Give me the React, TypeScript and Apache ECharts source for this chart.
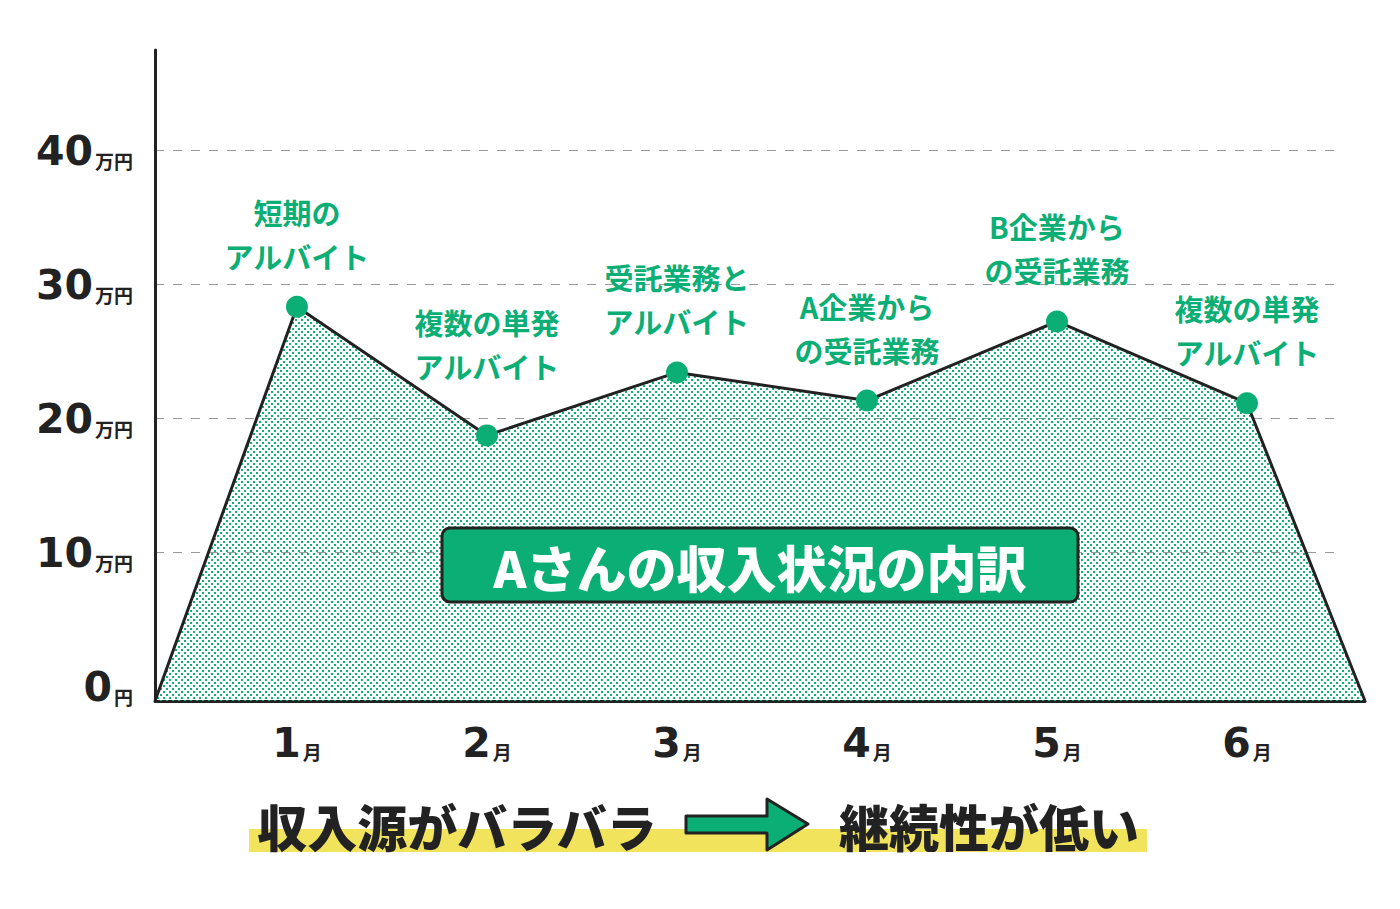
import { useEffect, useRef } from 'react';
import * as echarts from 'echarts';

// 月ごとの収入（万円）
const months = [1, 2, 3, 4, 5, 6];
const income = [28.3, 18.7, 23.4, 21.3, 27.2, 21.1];
const notes = [
  ['短期の', 'アルバイト'],
  ['複数の単発', 'アルバイト'],
  ['受託業務と', 'アルバイト'],
  ['A企業から', 'の受託業務'],
  ['B企業から', 'の受託業務'],
  ['複数の単発', 'アルバイト'],
];
const yTicks = [0, 10, 20, 30, 40];

// axis extents (the area starts and ends on the bottom corners)
const X_MIN = 0.253;
const X_MAX = 6.621;
const Y_MIN = -1.12;
const Y_MAX = 47.46;

const GREEN = '#0bae74';
const DARK = '#222222';
const JP = '"Noto Sans CJK JP", sans-serif';
const NUM = '"DejaVu Sans", sans-serif';

function dotPattern() {
  const c = document.createElement('canvas');
  c.width = 6;
  c.height = 6;
  const ctx = c.getContext('2d')!;
  ctx.fillStyle = '#12b073';
  ctx.fillRect(1, 1, 2, 2);
  ctx.fillRect(4, 4, 2, 2);
  return c;
}

export default function App() {
  const chartRef = useRef<HTMLDivElement>(null);

  useEffect(() => {
    document.body.style.margin = '0';
    if (!chartRef.current) return;
    const chart = echarts.init(chartRef.current, undefined, { renderer: 'svg' });

    const unitRich = {
      n: { fontFamily: NUM, fontWeight: 'bold', fontSize: 41, color: DARK, verticalAlign: 'bottom', lineHeight: 44 },
      u: { fontFamily: JP, fontWeight: 'bold', fontSize: 19, color: DARK, verticalAlign: 'bottom', lineHeight: 44, padding: [0, 0, 2, 2] },
    };

    const data: any[] = [
      { value: [X_MIN, Y_MIN], symbol: 'none' },
      ...months.map((m, i) => ({
        value: [m, income[i]],
        label: { show: true, formatter: notes[i].join('\n'), distance: i === 1 ? 36 : 18 },
      })),
      { value: [X_MAX, Y_MIN], symbol: 'none' },
    ];

    chart.setOption({
      animation: false,
      grid: [
        { left: 155, right: 35, top: 50, bottom: 208 },
        // gridlines only, they stop short of the area's right corner
        { left: 155, right: 57, top: 50, bottom: 290 },
      ],
      xAxis: [
        {
          type: 'value',
          gridIndex: 0,
          min: X_MIN,
          max: X_MAX,
          minInterval: 1,
          maxInterval: 1,
          axisLine: { onZero: false, lineStyle: { color: DARK, width: 3 } },
          axisTick: { show: false },
          splitLine: { show: false },
          axisLabel: {
            margin: 18,
            formatter: (v: number) => (months.includes(v) ? `{n|${v}}{u|月}` : ''),
            rich: unitRich,
          },
        },
        { type: 'value', gridIndex: 1, min: X_MIN, max: X_MAX, show: false },
      ],
      yAxis: [
        {
          type: 'value',
          gridIndex: 0,
          min: Y_MIN,
          max: Y_MAX,
          minInterval: 10,
          maxInterval: 10,
          axisLine: { show: true, onZero: false, lineStyle: { color: DARK, width: 3 } },
          axisTick: { show: false },
          splitLine: { show: false },
          axisLabel: {
            margin: 22,
            formatter: (v: number) => {
              if (!yTicks.includes(v)) return '';
              return v === 0 ? `{n|0}{u|円}` : `{n|${v}}{u|万円}`;
            },
            rich: unitRich,
          },
        },
        {
          type: 'value',
          gridIndex: 1,
          min: 5,
          max: Y_MAX,
          minInterval: 10,
          maxInterval: 10,
          axisLine: { show: false },
          axisTick: { show: false },
          axisLabel: { show: false },
          splitLine: {
            show: true,
            showMinLine: false,
            showMaxLine: false,
            lineStyle: { color: '#999999', width: 1.2, type: [9, 9] },
          },
        },
      ],
      series: [
        {
          type: 'line',
          xAxisIndex: 0,
          yAxisIndex: 0,
          data,
          symbol: 'circle',
          symbolSize: 22,
          itemStyle: { color: GREEN },
          lineStyle: { color: DARK, width: 3 },
          areaStyle: {
            origin: 'start',
            opacity: 1,
            color: { image: dotPattern(), repeat: 'repeat', imageWidth: 6, imageHeight: 6 },
          },
          label: {
            show: false,
            position: 'top',
            color: GREEN,
            fontFamily: JP,
            fontWeight: 'bold',
            fontSize: 29,
            lineHeight: 44,
          },
          z: 3,
        },
      ],
      graphic: [
        {
          type: 'rect',
          z: 10,
          shape: { x: 442, y: 528, width: 636, height: 74, r: 8 },
          style: { fill: GREEN, stroke: DARK, lineWidth: 3 },
        },
        {
          type: 'text',
          z: 11,
          x: 760,
          y: 566,
          style: {
            text: 'Aさんの収入状況の内訳',
            fill: '#ffffff',
            fontFamily: JP,
            fontWeight: 900,
            fontSize: 50,
            align: 'center',
            verticalAlign: 'middle',
          },
        },
        {
          type: 'rect',
          z: 10,
          shape: { x: 249, y: 829, width: 898, height: 23 },
          style: { fill: '#f2e35c' },
        },
        {
          type: 'text',
          z: 11,
          x: 457,
          y: 825,
          style: {
            text: '収入源がバラバラ',
            fill: DARK,
            fontFamily: JP,
            fontWeight: 900,
            fontSize: 50,
            align: 'center',
            verticalAlign: 'middle',
          },
        },
        {
          type: 'polygon',
          z: 11,
          shape: {
            points: [
              [686, 816], [767, 816], [767, 799], [808, 824],
              [767, 850], [767, 833], [686, 833],
            ],
          },
          style: { fill: GREEN, stroke: DARK, lineWidth: 3, lineJoin: 'round' },
        },
        {
          type: 'text',
          z: 11,
          x: 989,
          y: 825,
          style: {
            text: '継続性が低い',
            fill: DARK,
            fontFamily: JP,
            fontWeight: 900,
            fontSize: 50,
            align: 'center',
            verticalAlign: 'middle',
          },
        },
      ],
    });

    return () => chart.dispose();
  }, []);

  return <div ref={chartRef} style={{ width: 1400, height: 909 }} />;
}
